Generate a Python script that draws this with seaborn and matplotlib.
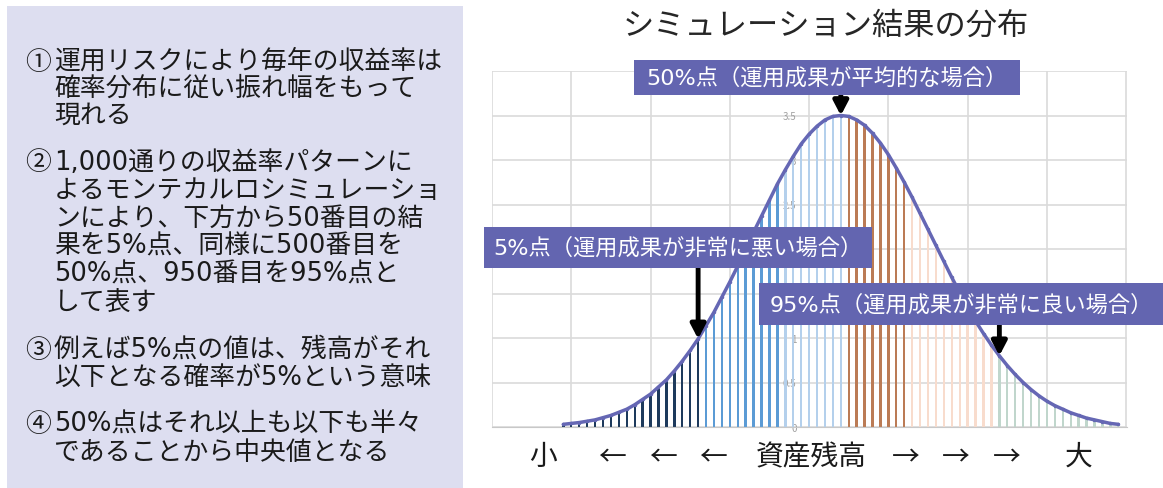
import matplotlib
matplotlib.use("Agg")
import matplotlib.pyplot as plt
from matplotlib.patches import Rectangle
import seaborn as sns
import pandas as pd

# ---- data -------------------------------------------------------------
# frequency of each asset-balance bin (left tail -> right tail)
freq_lower = [0.03, 0.04, 0.05, 0.065, 0.08, 0.105, 0.13, 0.165, 0.20, 0.25,
              0.31, 0.37, 0.45, 0.53, 0.63, 0.74, 0.86, 0.99, 1.14, 1.29,
              1.46, 1.63, 1.81, 2.00, 2.19, 2.37, 2.55, 2.73, 2.89, 3.04,
              3.18, 3.29, 3.38, 3.45, 3.49, 3.50]
freq_upper = [3.49, 3.45, 3.39, 3.30, 3.19, 3.06, 2.91, 2.75, 2.58, 2.40,
              2.22, 2.04, 1.86, 1.68, 1.51, 1.35, 1.19, 1.05, 0.92, 0.80,
              0.69, 0.59, 0.50, 0.42, 0.35, 0.29, 0.24, 0.20, 0.16, 0.13,
              0.10, 0.08, 0.06, 0.04, 0.03]
# number of bins in each colour band
band_names = ["low5", "low", "mid_low", "mid_high", "high", "high5"]
band_sizes = [18, 10, 8, 8, 11, 16]
band_colors = ["#1d3a5c", "#5b9bd5", "#b4d0ec", "#bb7b55", "#f8dccd", "#c0d6cc"]

y_ticks = [0, 0.5, 1, 1.5, 2, 2.5, 3, 3.5, 4]
# labels at 1.5, 2 and 4 sit under the callout boxes
y_tick_labels = ["0", "0.5", "1", "", "", "2.5", "3", "3.5", ""]

title = "シミュレーション結果の分布"
callouts = [
    ("50%点（運用成果が平均的な場合）", 35, (634, 61, 1020, 96)),
    ("5%点（運用成果が非常に悪い場合）", 17, (484, 228, 872, 269)),
    ("95%点（運用成果が非常に良い場合）", 55, (759, 284, 1163, 326)),
]
axis_caption = [("小", 543), ("←", 612), ("←", 663), ("←", 713), ("資産残高", 811),
                ("→", 906), ("→", 956), ("→", 1007), ("大", 1079)]
note_marks = ["①", "②", "③", "④"]
notes = [
    [("運用リスクにより毎年の収益率は", 62), ("確率分布に従い振れ幅をもって", 89), ("現れる", 116)],
    [("1,000通りの収益率パターンに", 163), ("よるモンテカルロシミュレーショ", 191),
     ("ンにより、下方から50番目の結", 219), ("果を5%点、同様に500番目を", 247),
     ("50%点、950番目を95%点と", 275), ("して表す", 303)],
    [("例えば5%点の値は、残高がそれ", 350), ("以下となる確率が5%という意味", 378)],
    [("50%点はそれ以上も以下も半々", 425), ("であることから中央値となる", 453)],
]

# ---- table ------------------------------------------------------------
values = freq_lower + freq_upper
bins = list(range(len(values)))
bands = [name for name, n in zip(band_names, band_sizes) for _ in range(n)]
df = pd.DataFrame({"bin": bins, "freq": values, "band": bands})

# ---- figure -----------------------------------------------------------
sns.set_style("white")
CJK = ["Noto Sans CJK JP", "DejaVu Sans"]
MIXED = ["DejaVu Sans", "Noto Sans CJK JP"]   # wider Latin digits, CJK fallback
plt.rcParams["font.family"] = CJK

W, H = 1163, 489
fig = plt.figure(figsize=(W / 100, H / 100), dpi=100)


def fx(x):
    return x / W


def fy(y):
    return 1 - y / H


# explanation panel
fig.patches.append(Rectangle((fx(7), fy(489)), fx(463) - fx(7), fy(7) - fy(489),
                             transform=fig.transFigure, facecolor="#dddef0",
                             edgecolor="none", zorder=0))
for mark, para in zip(note_marks, notes):
    fig.text(fx(25), fy(para[0][1]), mark, fontsize=18.6, family=CJK,
             color="#1a1a1a", va="center", ha="left")
    for line, y in para:
        fig.text(fx(54), fy(y), line, fontsize=18.6, family=MIXED,
                 color="#1a1a1a", va="center", ha="left")

ax = fig.add_axes([fx(492), fy(428), fx(1127) - fx(492), fy(72) - fy(428)])

for name, color in zip(band_names, band_colors):
    sns.barplot(data=df[df["band"] == name], x="bin", y="freq", color=color,
                native_scale=True, width=0.3, saturation=1, linewidth=0,
                edgecolor="none", ax=ax, zorder=2)
sns.lineplot(data=df, x="bin", y="freq", color="#6567b4", linewidth=2.5,
             marker="o", markersize=2.5, markeredgewidth=0, ax=ax, zorder=3)

ax.set_xlim(-9, 71.1)
ax.set_ylim(0, 4)
ax.set_xticks(range(-9, 72, 10))
ax.set_xticklabels([])
ax.set_yticks(y_ticks)
ax.set_yticklabels(y_tick_labels)
ax.grid(True, color="#dadada", linewidth=1.2, zorder=0)
ax.set_axisbelow(True)
ax.set_xlabel("")
ax.set_ylabel("")
for side in ["top", "right", "left"]:
    ax.spines[side].set_visible(False)
ax.spines["bottom"].set_color("#c8c8c8")
ax.spines["left"].set_position(("data", 31))
ax.tick_params(axis="x", length=0)
ax.tick_params(axis="y", length=0, pad=9, labelsize=7, labelcolor="#a0a0a0")

# callout boxes and arrows
for text, target, (x0, y0, x1, y1) in callouts:
    fig.patches.append(Rectangle((fx(x0), fy(y1)), fx(x1) - fx(x0), fy(y0) - fy(y1),
                                 transform=fig.transFigure, facecolor="#6365b0",
                                 edgecolor="none", zorder=4))
    fig.text(fx((x0 + x1) / 2), fy((y0 + y1) / 2), text, fontsize=16, family=MIXED,
             color="white", ha="center", va="center", zorder=5)
    start = (428 - y1 + 4) / 89.0
    ax.annotate("", xy=(target, values[target]), xytext=(target, start),
                arrowprops=dict(arrowstyle="-|>,head_width=0.22,head_length=0.42",
                                mutation_scale=20, color="black", lw=3.5,
                                shrinkA=0, shrinkB=0), zorder=4)

fig.text(fx(826), fy(26), title, fontsize=22.5, color="#262626", ha="center", va="center")
for label, x in axis_caption:
    fig.text(fx(x), fy(457), label, fontsize=20, color="#1a1a1a", ha="center", va="center")

fig.savefig("out.png", dpi=100)
